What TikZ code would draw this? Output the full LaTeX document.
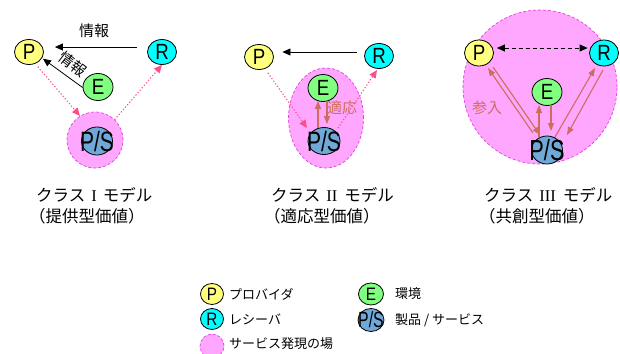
\documentclass[tikz,border=0pt]{standalone}
\usepackage{fontspec}
\usepackage{graphicx}
\usetikzlibrary{shapes.geometric,arrows.meta,calc}
\newfontfamily\jp{Noto Sans CJK JP}
\newfontfamily\lat{Liberation Sans}
\newfontfamily\ser{Liberation Serif}
\definecolor{pyel}{HTML}{FFFF80}
\definecolor{rcy}{HTML}{00FFFF}
\definecolor{egr}{HTML}{80FF80}
\definecolor{psb}{HTML}{70A8D8}
\definecolor{fpink}{HTML}{FFA6FF}
\definecolor{fmag}{HTML}{E040E0}
\definecolor{dpink}{HTML}{FF4D88}
\definecolor{brn}{HTML}{CD6E5C}
\newcommand\LT[3]{{\fontsize{#1}{#1}\selectfont\lat\scalebox{#2}[1]{#3}}}
\tikzset{
  ent/.style={ellipse, draw=black, line width=0.8pt, inner sep=0pt},
  pnode/.style={ent, fill=pyel, minimum width=29pt, minimum height=25pt},
  rnode/.style={ent, fill=rcy, minimum width=29pt, minimum height=25pt},
  enode/.style={ent, fill=egr, minimum width=30pt, minimum height=27pt},
  psnode/.style={ent, fill=psb, minimum width=31pt, minimum height=28pt},
  field/.style={ellipse, fill=fpink, draw=fmag, line width=0.7pt, dash pattern=on 3pt off 2pt, inner sep=0pt},
  lt/.style={inner sep=0pt},
  arr/.style={-{Triangle[length=8pt,width=7pt]}, line width=0.8pt, black},
  darr/.style={{Triangle[length=8pt,width=7pt]}-{Triangle[length=8pt,width=7pt]}, line width=0.8pt, black, dash pattern=on 4pt off 3pt},
  dotarr/.style={-{Triangle[length=8pt,width=7pt]}, line width=1.1pt, dpink, dash pattern=on 1.2pt off 2pt},
  barr/.style={-{Triangle[length=8pt,width=6pt]}, line width=1.1pt, brn},
  jlab/.style={inner sep=0pt, font=\jp\fontsize{15}{15}\selectfont},
  captext/.style={inner sep=0pt, anchor=west, font=\jp\fontsize{16.5}{16.5}\selectfont},
  legtext/.style={inner sep=0pt, anchor=west, font=\jp\fontsize{13}{13}\selectfont}
}
\begin{document}
\begin{tikzpicture}[x=1pt,y=-1pt]
\useasboundingbox (0,0) rectangle (620,353);
% ---------- panel 1
\node[field, minimum width=56pt, minimum height=56pt] (f1) at (95,140) {};
\node[psnode, label={[lt]center:\LT{28}{0.75}{P/S}}] (ps1) at (97,141) {};
\node[pnode, label={[lt]center:\LT{22}{0.85}{P}}] (p1) at (29,52) {};
\node[rnode, label={[lt]center:\LT{22}{0.85}{R}}] (r1) at (162,52) {};
\node[enode, label={[lt]center:\LT{22}{0.85}{E}}] (e1) at (98,87) {};
\draw[arr, shorten <=10pt, shorten >=11pt] ([yshift=5pt]r1.west) -- ([yshift=5pt]p1.east);
\node[jlab] (i1) at (94,31) {情報};
\draw[arr, shorten >=1pt] (e1.182) -- (p1.-25);
\node[jlab, rotate=-38] (i2) at (72.5,64) {情報};
\draw[dotarr, shorten <=4pt] (p1.-62) -- (f1.122);
\draw[dotarr] (f1.46) -- (r1.-90);
% ---------- panel 2
\node[field, minimum width=75pt, minimum height=100pt] (f2) at (326,118) {};
\node[psnode, minimum width=32pt, minimum height=27pt, label={[lt]center:\LT{28}{0.75}{P/S}}] (ps2) at (324,141) {};
\node[enode, label={[lt]center:\LT{22}{0.85}{E}}] (e2) at (323,88) {};
\node[pnode, label={[lt]center:\LT{22}{0.85}{P}}] (p2) at (259,57) {};
\node[rnode, label={[lt]center:\LT{22}{0.85}{R}}] (r2) at (379,56) {};
\draw[arr, shorten <=7.5pt, shorten >=8.5pt] ([yshift=4pt]r2.west) -- ([yshift=5pt]p2.east);
\draw[dotarr, shorten <=5pt] (p2.-63) -- ($(ps2)+(-17,-13)$);
\draw[dotarr] ($(ps2)+(14,-13)$) -- ($(r2)+(-2,14)$);
\draw[barr] ($(ps2)+(-6,-13)$) -- ($(e2)+(-5,13)$);
\draw[barr] ($(e2)+(4,13)$) -- ($(ps2)+(3,-17)$);
\node[jlab, text=brn] (ad) at (342,108) {適応};
% ---------- panel 3
\node[field, minimum width=154pt, minimum height=154pt] (f3) at (540,87) {};
\node[psnode, label={[lt]center:\LT{29}{0.75}{P/S}}] (ps3) at (547,150) {};
\node[enode, label={[lt]center:\LT{22}{0.85}{E}}] (e3) at (547,92) {};
\node[pnode, minimum height=26pt, label={[lt]center:\LT{22}{0.85}{P}}] (p3) at (479,53) {};
\node[rnode, minimum height=26pt, label={[lt]center:\LT{22}{0.85}{R}}] (r3) at (604,53) {};
\draw[darr, shorten <=3pt, shorten >=1.5pt] ([yshift=5pt]p3.east) -- ([yshift=5pt]r3.west);
\draw[barr] ($(ps3)+(-14,-17)$) -- ($(p3)+(9,15)$);
\draw[barr] ($(p3)+(14,14)$) -- ($(ps3)+(-7,-15)$);
\draw[barr] ($(ps3)+(8,-13)$) -- ($(r3)+(-9,15)$);
\draw[barr] ($(r3)+(-1,17)$) -- ($(ps3)+(20,-15)$);
\draw[barr] ($(ps3)+(-8,-13)$) -- ($(e3)+(-8,13)$);
\draw[barr] ($(e3)+(4,13)$) -- ($(ps3)+(4,-19)$);
\node[jlab, text=brn] (sn) at (487,108) {参入};
% ---------- captions
\node[captext] (c1a) at (36,195) {クラス\hspace{6pt}{\ser I}\hspace{6pt}モデル};
\node[captext] (c1b) at (29,216) {（提供型価値）};
\node[captext] (c2a) at (271,195) {クラス\hspace{6pt}{\ser II}\hspace{7pt}モデル};
\node[captext] (c2b) at (264,216) {（適応型価値）};
\node[captext] (c3a) at (484,195) {クラス\hspace{6pt}{\ser III}\hspace{7pt}モデル};
\node[captext] (c3b) at (479,216) {（共創型価値）};
% ---------- legend
\node[pnode, minimum width=23pt, minimum height=21pt, label={[lt]center:\LT{18}{0.85}{P}}] (lp) at (212,294) {};
\node[legtext] (lpt) at (229,294) {プロバイダ};
\node[rnode, minimum width=23pt, minimum height=21pt, label={[lt]center:\LT{18}{0.85}{R}}] (lr) at (212,319) {};
\node[legtext] (lrt) at (229,319) {レシーバ};
\node[field, minimum width=24pt, minimum height=24pt] (lf) at (212,346) {};
\node[legtext] (lft) at (229,344) {サービス発現の場};
\node[enode, minimum width=25pt, minimum height=22pt, label={[lt]center:\LT{18}{0.85}{E}}] (le) at (371,294) {};
\node[legtext] (let) at (395,294) {環境};
\node[psnode, minimum width=26pt, minimum height=23pt, label={[lt]center:\LT{22}{0.72}{P/S}}] (lps) at (371,320) {};
\node[legtext] (lpst) at (395,320) {製品 / サービス};
\end{tikzpicture}
\end{document}
